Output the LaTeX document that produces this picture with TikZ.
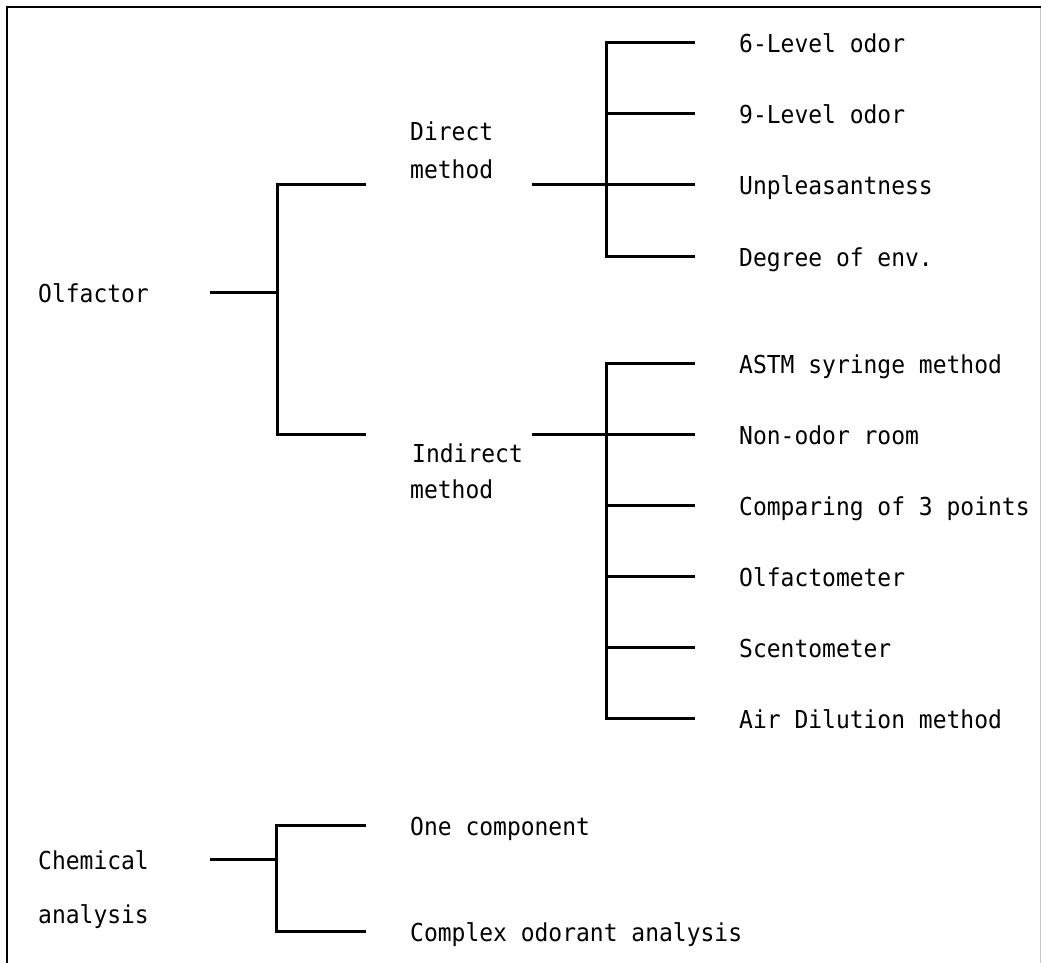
\documentclass[tikz,border=0pt]{standalone}
\usepackage{fontspec}
\setmonofont[FakeStretch=0.93]{DejaVu Sans Mono}
\begin{document}
\begin{tikzpicture}[x=1pt,y=-1pt,
  lbl/.style={font=\ttfamily\fontsize{24.7}{30}\selectfont, inner sep=0pt, anchor=base west},
  ln/.style={line width=3pt, line join=miter},
  framel/.style={line width=2.2pt, line join=miter}]
\useasboundingbox (0,0) rectangle (1041,963);
% frame
\draw[framel] (7,963) -- (7,7) -- (1041,7);
\draw[black!22, line width=1pt] (1040,8) -- (1040,963);

% labels
\node[lbl] (olf) at (38,302) {Olfactor};
\node[lbl] (dir1) at (410,141) {Direct};
\node[lbl] (dir2) at (410,178) {method};
\node[lbl] (ind1) at (412,462) {Indirect};
\node[lbl] (ind2) at (410,498) {method};
\node[lbl] (chem1) at (38,869) {Chemical};
\node[lbl] (chem2) at (38,923) {analysis};

\node[lbl] (lv6) at (739,53) {6-Level odor};
\node[lbl] (lv9) at (739,124) {9-Level odor};
\node[lbl] (unp) at (739,194) {Unpleasantness};
\node[lbl] (deg) at (739,266) {Degree of env.};
\node[lbl] (astm) at (739,373) {ASTM syringe method};
\node[lbl] (non) at (739,444) {Non-odor room};
\node[lbl] (cmp) at (739,515) {Comparing of 3 points};
\node[lbl] (olfm) at (739,586) {Olfactometer};
\node[lbl] (scen) at (739,657) {Scentometer};
\node[lbl] (air) at (739,728) {Air Dilution method};
\node[lbl] (one) at (410,835) {One component};
\node[lbl] (cx) at (410,941) {Complex odorant analysis};

% connector points
\coordinate (olfOut) at (210,292);
\coordinate (olfJ) at (277,292);
\coordinate (dirIn) at (366,184);
\coordinate (indIn) at (366,434);
\coordinate (dirOut) at (532,184);
\coordinate (dirJ) at (606,184);
\coordinate (indOut) at (532,434);
\coordinate (indJ) at (606,434);
\coordinate (e1) at (695,43);
\coordinate (e2) at (695,114);
\coordinate (e3) at (695,184);
\coordinate (e4) at (695,256);
\coordinate (f1) at (695,363);
\coordinate (f2) at (695,434);
\coordinate (f3) at (695,505);
\coordinate (f4) at (695,576);
\coordinate (f5) at (695,647);
\coordinate (f6) at (695,718);
\coordinate (chOut) at (210,859);
\coordinate (chJ) at (276,859);
\coordinate (oneIn) at (366,825);
\coordinate (cxIn) at (366,931);

% olfactor bracket
\draw[ln] (olfOut) -- (olfJ);
\draw[ln] (dirIn) -| (olfJ) |- (indIn);

% direct subtree
\draw[ln] (e1) -| (dirJ) |- (e4);
\draw[ln] (dirOut) -- (e3);
\draw[ln] (dirJ |- e2) -- (e2);

% indirect subtree
\draw[ln] (f1) -| (indJ) |- (f6);
\draw[ln] (indOut) -- (f2);
\draw[ln] (indJ |- f3) -- (f3);
\draw[ln] (indJ |- f4) -- (f4);
\draw[ln] (indJ |- f5) -- (f5);

% chemical bracket
\draw[ln] (chOut) -- (chJ);
\draw[ln] (oneIn) -| (chJ) |- (cxIn);
\end{tikzpicture}
\end{document}
